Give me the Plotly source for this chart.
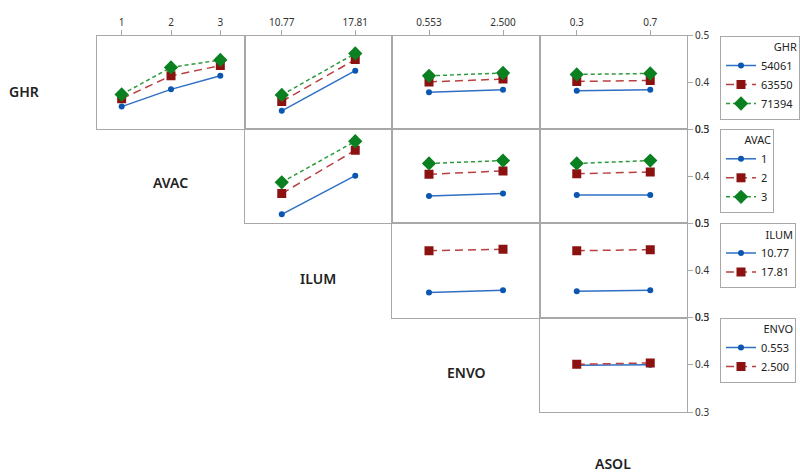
import plotly.graph_objects as go

# ---------------- data ----------------
row_factors = ["GHR", "AVAC", "ILUM", "ENVO"]
col_factors = ["AVAC", "ILUM", "ENVO", "ASOL"]

levels = {
    "GHR": ["54061", "63550", "71394"],
    "AVAC": ["1", "2", "3"],
    "ILUM": ["10.77", "17.81"],
    "ENVO": ["0.553", "2.500"],
    "ASOL": ["0.3", "0.7"],
}

ghr_avac = [[0.348, 0.385, 0.414], [0.365, 0.414, 0.436], [0.374, 0.432, 0.448]]
ghr_ilum = [[0.339, 0.425], [0.359, 0.449], [0.373, 0.462]]
ghr_envo = [[0.379, 0.384], [0.401, 0.407], [0.414, 0.420]]
ghr_asol = [[0.382, 0.384], [0.402, 0.404], [0.417, 0.419]]
avac_ilum = [[0.319, 0.401], [0.363, 0.455], [0.387, 0.474]]
avac_envo = [[0.358, 0.363], [0.404, 0.411], [0.427, 0.433]]
avac_asol = [[0.360, 0.360], [0.405, 0.409], [0.427, 0.433]]
ilum_envo = [[0.353, 0.358], [0.442, 0.445]]
ilum_asol = [[0.356, 0.358], [0.442, 0.444]]
envo_asol = [[0.399, 0.400], [0.401, 0.404]]

means = {
    (0, 0): ghr_avac, (0, 1): ghr_ilum, (0, 2): ghr_envo, (0, 3): ghr_asol,
    (1, 1): avac_ilum, (1, 2): avac_envo, (1, 3): avac_asol,
    (2, 2): ilum_envo, (2, 3): ilum_asol,
    (3, 3): envo_asol,
}

y_ticks = [0.3, 0.4, 0.5]

# ---------------- styles ----------------
W, H = 800, 472
col_edges = [97, 245, 392, 540, 687]
row_edges = [35.7, 129, 223.3, 317.6, 412]

styles = [
    dict(line=dict(color="#2E6FC4", width=1.5, dash="solid"),
         marker=dict(symbol="circle", size=6, color="#0B56B0")),
    dict(line=dict(color="#B84040", width=1.5, dash="8px,5px"),
         marker=dict(symbol="square", size=9, color="#8C1212")),
    dict(line=dict(color="#2E9A3E", width=1.5, dash="4px,3px"),
         marker=dict(symbol="diamond", size=11, color="#0A8020")),
]

legend_keys = ["legend", "legend2", "legend3", "legend4"]

BORDER = "#A8A8A8"
FONT = "Noto Sans"

fig = go.Figure()
layout = dict(
    width=W, height=H,
    margin=dict(l=0, r=0, t=0, b=0, autoexpand=False),
    paper_bgcolor="white", plot_bgcolor="white",
    font=dict(family=FONT, size=10, color="#333333"),
)

k = 0
for r in range(4):
    for c in range(4):
        if c < r:
            continue
        k += 1
        xa = "xaxis" if k == 1 else f"xaxis{k}"
        ya = "yaxis" if k == 1 else f"yaxis{k}"
        xref = "x" if k == 1 else f"x{k}"
        yref = "y" if k == 1 else f"y{k}"
        xlev = levels[col_factors[c]]
        tlev = levels[row_factors[r]]
        data = means[(r, c)]
        for i, series in enumerate(data):
            st = styles[i]
            fig.add_trace(go.Scatter(
                x=xlev, y=series, mode="lines+markers",
                name=tlev[i], line=st["line"], marker=st["marker"],
                xaxis=xref, yaxis=yref,
                legend=legend_keys[r], showlegend=(c == 3),
            ))
        top_row = (r == 0)
        layout[xa] = dict(
            domain=[col_edges[c] / W, col_edges[c + 1] / W],
            anchor=yref, type="category", range=[-0.5, len(xlev) - 0.5],
            showline=True, mirror=True, linecolor=BORDER, linewidth=1,
            showgrid=False, zeroline=False, fixedrange=True,
            side="top" if top_row else "bottom",
            ticks="outside" if top_row else "", ticklen=5, tickcolor=BORDER,
            showticklabels=top_row, tickfont=dict(size=10, color="#333333"),
        )
        right_col = (c == 3)
        layout[ya] = dict(
            domain=[1 - row_edges[r + 1] / H, 1 - row_edges[r] / H],
            anchor=xref, range=[0.3, 0.5],
            showline=True, mirror=True, linecolor=BORDER, linewidth=1,
            showgrid=False, zeroline=False, fixedrange=True,
            side="right" if right_col else "left",
            tickvals=y_ticks, ticktext=[f"{v:.1f}" for v in y_ticks],
            ticks="outside" if right_col else "", ticklen=5, tickcolor=BORDER,
            showticklabels=right_col, tickfont=dict(size=10, color="#333333"),
        )

for r in range(4):
    layout[legend_keys[r]] = dict(
        x=720 / W, y=1 - row_edges[r] / H, xanchor="left", yanchor="top",
        bgcolor="white", bordercolor=BORDER, borderwidth=1,
        font=dict(family=FONT, size=11, color="#222222"),
        title=dict(text=row_factors[r], side="top right",
                   font=dict(family=FONT, size=11, color="#222222")),
        tracegroupgap=0, itemclick=False, itemdoubleclick=False,
    )

# factor name labels along the diagonal
diag_labels = ["GHR", "AVAC", "ILUM", "ENVO", "ASOL"]
diag_pos = [(24, 91), (170, 183), (318, 278), (466, 372), (613, 463)]
annotations = []
for name, (px, py) in zip(diag_labels, diag_pos):
    annotations.append(dict(
        text=name, x=px / W, y=1 - py / H, xref="paper", yref="paper",
        showarrow=False, xanchor="center", yanchor="middle",
        font=dict(family=FONT, size=14, color="#222222", weight=600),
    ))
layout["annotations"] = annotations

fig.update_layout(**layout)
fig.write_html("out.html")
